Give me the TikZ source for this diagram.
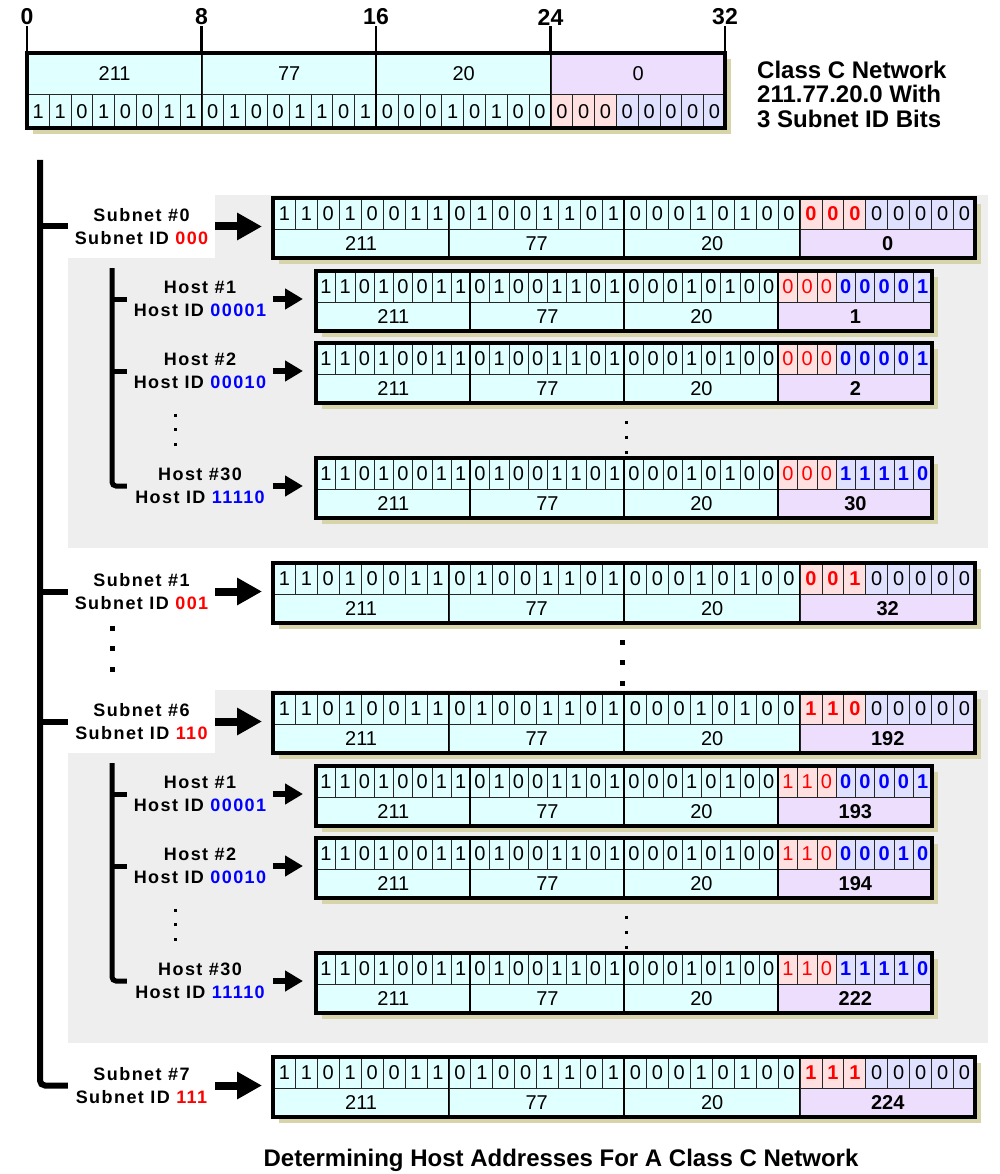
\documentclass[tikz,border=0pt]{standalone}
\usepackage{fontspec}
\setmainfont{Liberation Sans}
\newfontfamily\lblfont[LetterSpace=8]{Liberation Sans}
\usetikzlibrary{arrows.meta,calc,positioning}

\definecolor{netfill}{RGB}{224,255,255}
\definecolor{subfill}{RGB}{255,224,224}
\definecolor{hostfill}{RGB}{224,224,255}
\definecolor{octfill}{RGB}{236,222,252}
\definecolor{shadowc}{RGB}{216,212,170}
\definecolor{panelc}{RGB}{238,238,238}
\definecolor{subred}{RGB}{255,0,0}
\definecolor{hostblue}{RGB}{0,0,255}

\newcommand{\bitfont}{\fontsize{20}{22}\selectfont}
\def\netbits{1,1,0,1,0,0,1,1,0,1,0,0,1,1,0,1,0,0,0,1,0,1,0,0}

% #1 name, #2 x, #3 y, #4 cell width, #5 last 8 bits, #6 last octet,
% #7 subnet bit style, #8 host bit style, #9 last octet style
\newcommand{\addrrow}[9]{%
  \node[rowbox, minimum width=32*#4] (#1) at (#2,#3) {};
  \fill[shadowc] ($(#1.north west)+(6,6)$) rectangle ($(#1.south east)+(6,6)$);
  \foreach \bv [count=\ci from 0] in \netbits
    \node[bitcell, minimum width=#4, fill=netfill] at ($(#1.north west)+(\ci*#4,0)$) {\bv};
  \foreach \bv [count=\ci from 24] in {#5} {
    \ifnum\ci<27 \tikzset{curbit/.style={fill=subfill,#7}}%
    \else \tikzset{curbit/.style={fill=hostfill,#8}}\fi
    \node[bitcell, minimum width=#4, curbit] at ($(#1.north west)+(\ci*#4,0)$) {\bv};
  }
  \foreach \ov [count=\co from 0] in {211,77,20,#6} {
    \ifnum\co<3 \tikzset{curoct/.style={fill=netfill}}%
    \else \tikzset{curoct/.style={fill=octfill,#9}}\fi
    \node[octcell, minimum width=8*#4, curoct] at ($(#1.north west)+(\co*8*#4,31)$) {\ov};
  }
  \foreach \co in {1,2,3}
    \draw[octline] ($(#1.north west)+(\co*8*#4,0)$) -- ++(0,60);
  \draw[frameline] (#1.north west) rectangle (#1.south east);
}
\newcommand{\subnetrow}[4]{\addrrow{#1}{273}{#2}{21.94}{#3}{#4}{redbold}{}{boldoct}}
\newcommand{\hostrow}[4]{\addrrow{#1}{316}{#2}{19.25}{#3}{#4}{redplain}{bluebold}{boldoct}}
% x, top y, spacing, size
\newcommand{\dotcol}[4]{\foreach \dy in {0,1,2} \fill ({#1-#4/2},{#2+\dy*#3-#4/2}) rectangle ++(#4,#4);}

\begin{document}
\begin{tikzpicture}[x=1pt, y=-1pt,
  rowbox/.style={inner sep=0pt, minimum height=60pt, anchor=north west},
  bitcell/.style={draw=black!85, line width=0.8pt, inner sep=0pt, minimum height=31pt, anchor=north west, font=\bitfont},
  octcell/.style={draw=black!85, line width=0.8pt, inner sep=0pt, minimum height=29pt, anchor=north west, font=\bitfont},
  redbold/.style={text=subred, font=\bitfont\bfseries},
  redplain/.style={text=subred},
  bluebold/.style={text=hostblue, font=\bitfont\bfseries},
  boldoct/.style={font=\bitfont\bfseries},
  octline/.style={line width=1.5pt},
  frameline/.style={line width=4pt},
  sublabel/.style={fill=white, inner sep=0pt, minimum width=147pt, minimum height=63pt, align=center, font=\lblfont\bfseries\fontsize{18}{23}\selectfont},
  hostlabel/.style={inner sep=0pt, minimum width=146pt, align=center, font=\lblfont\bfseries\fontsize{18}{23}\selectfont},
  subarrow/.style={line width=8pt, -{Triangle[length=25pt,width=26pt]}, shorten >=11pt},
  hostarrow/.style={line width=6pt, -{Triangle[length=18pt,width=20pt]}, shorten >=13pt},
  trunkline/.style={line width=6pt},
  branchline/.style={line width=5pt},
  tickline/.style={line width=2.5pt},
  ticklabel/.style={inner sep=1pt, font=\bfseries\fontsize{23}{25}\selectfont},
  titletext/.style={inner sep=0pt, align=left, font=\bfseries\fontsize{24}{24.5}\selectfont},
  panel/.style={fill=panelc}]
\useasboundingbox (0,0) rectangle (1000,1174);

% grey panels behind the two expanded subnets
\fill[panel] (68,195) rectangle (988,548);
\fill[panel] (68,690) rectangle (988,1043);

% network address at the top
\node[inner sep=0pt, minimum width=698pt, minimum height=75pt, anchor=north west] (net) at (27,53) {};
\fill[shadowc] ($(net.north west)+(6,6)$) rectangle ($(net.south east)+(6,6)$);
\foreach \ov [count=\co from 0] in {211,77,20,0} {
  \ifnum\co<3 \def\cf{netfill}\else\def\cf{octfill}\fi
  \node[octcell, minimum height=41pt, minimum width=174.5pt, fill=\cf] at ($(net.north west)+(\co*174.5,0)$) {\ov};
}
\foreach \bv [count=\ci from 0] in \netbits
  \node[bitcell, minimum height=34pt, minimum width=21.8125pt, fill=netfill] at ($(net.north west)+(\ci*21.8125,41)$) {\bv};
\foreach \bv [count=\ci from 24] in {0,0,0,0,0,0,0,0} {
  \ifnum\ci<27 \def\cf{subfill}\else\def\cf{hostfill}\fi
  \node[bitcell, minimum height=34pt, minimum width=21.8125pt, fill=\cf] at ($(net.north west)+(\ci*21.8125,41)$) {\bv};
}
\foreach \co in {1,2,3}
  \draw[octline] ($(net.north west)+(\co*174.5,0)$) -- ++(0,75);
\draw[frameline] (net.north west) rectangle (net.south east);
\foreach \t [count=\co from 0] in {0,8,16,24,32} {
  \node[ticklabel] (tick\t) at ({27+\co*174.5},17) {\t};
  \draw[tickline] (tick\t.south) -- (tick\t.south |- net.north);
}
\node[titletext, anchor=west] (info) at (757,94) {Class C Network\\211.77.20.0 With\\3 Subnet ID Bits};

% subnet and host addresses
\subnetrow{s0}{198}{0,0,0,0,0,0,0,0}{0}
\hostrow{h1}{271}{0,0,0,0,0,0,0,1}{1}
\hostrow{h2}{343}{0,0,0,0,0,0,0,1}{2}
\hostrow{h30}{458}{0,0,0,1,1,1,1,0}{30}
\subnetrow{s1}{563}{0,0,1,0,0,0,0,0}{32}
\subnetrow{s6}{693}{1,1,0,0,0,0,0,0}{192}
\hostrow{g1}{766}{1,1,0,0,0,0,0,1}{193}
\hostrow{g2}{838}{1,1,0,0,0,0,1,0}{194}
\hostrow{g30}{953}{1,1,0,1,1,1,1,0}{222}
\subnetrow{s7}{1057}{1,1,1,0,0,0,0,0}{224}

% labels
\node[sublabel] (l0) at (141.5,226.5) {Subnet \#0\\Subnet ID \textcolor{subred}{000}};
\node[sublabel] (l1) at (141.5,591.5) {Subnet \#1\\Subnet ID \textcolor{subred}{001}};
\node[sublabel] (l6) at (141.5,721.5) {Subnet \#6\\Subnet ID \textcolor{subred}{110}};
\node[sublabel] (l7) at (141.5,1085.5) {Subnet \#7\\Subnet ID \textcolor{subred}{111}};
\node[hostlabel] (m1) at (200,299) {Host \#1\\Host ID \textcolor{hostblue}{00001}};
\node[hostlabel] (m2) at (200,371) {Host \#2\\Host ID \textcolor{hostblue}{00010}};
\node[hostlabel] (m30) at (200,486) {Host \#30\\Host ID \textcolor{hostblue}{11110}};
\node[hostlabel] (n1) at (200,794) {Host \#1\\Host ID \textcolor{hostblue}{00001}};
\node[hostlabel] (n2) at (200,866) {Host \#2\\Host ID \textcolor{hostblue}{00010}};
\node[hostlabel] (n30) at (200,981) {Host \#30\\Host ID \textcolor{hostblue}{11110}};

% arrows
\foreach \lab/\row in {l0/s0,l1/s1,l6/s6,l7/s7}
  \draw[subarrow] (\lab.east) -- (\lab.east -| \row.west);
\foreach \lab/\row in {m1/h1,m2/h2,m30/h30,n1/g1,n2/g2,n30/g30}
  \draw[hostarrow] (\lab.east) -- (\lab.east -| \row.west);

% tree lines
\coordinate (trunk) at (40,160);
\draw[trunkline, rounded corners=5pt] (trunk) |- (l7.west);
\foreach \lab in {l0,l1,l6}
  \draw[trunkline] (trunk |- \lab.west) -- (\lab.west);
\coordinate (br0) at (112,268);
\draw[branchline, rounded corners=4pt] (br0) |- (m30.west);
\foreach \lab in {m1,m2}
  \draw[branchline] (br0 |- \lab.west) -- (\lab.west);
\coordinate (br6) at (112,763);
\draw[branchline, rounded corners=4pt] (br6) |- (n30.west);
\foreach \lab in {n1,n2}
  \draw[branchline] (br6 |- \lab.west) -- (\lab.west);

% dots
\dotcol{175}{415}{14.5}{3}
\dotcol{626}{422}{15}{3}
\dotcol{175}{910}{14.5}{3}
\dotcol{626}{917}{15}{3}
\dotcol{112}{628}{20.5}{5}
\dotcol{622}{642}{20.5}{5}

\node[titletext] (caption) at (561,1160) {Determining Host Addresses For A Class C Network};
\end{tikzpicture}
\end{document}
